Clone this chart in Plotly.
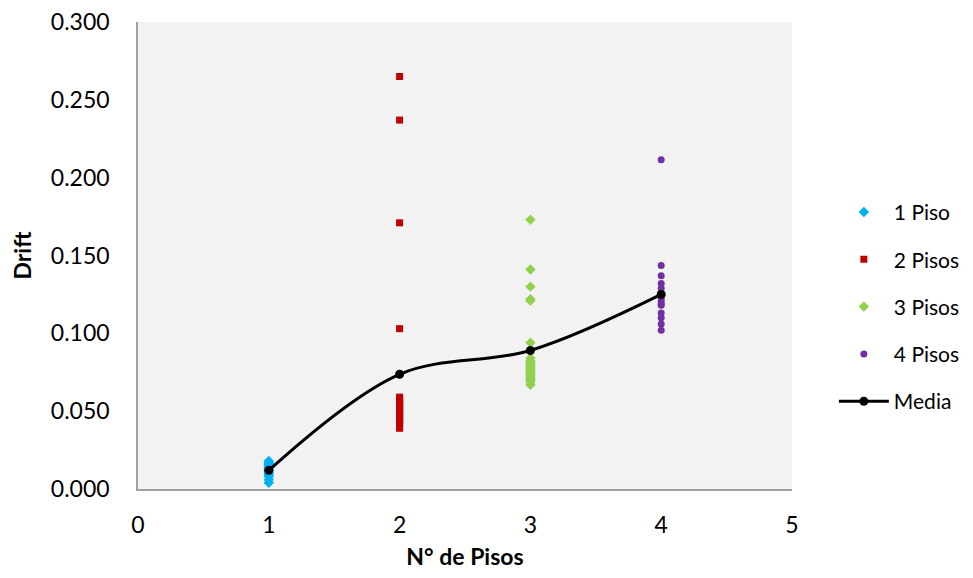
import plotly.graph_objects as go

# ---- data ----
piso1_y = [0.004, 0.006, 0.008, 0.009, 0.010, 0.011, 0.012, 0.012, 0.013, 0.013,
           0.014, 0.014, 0.015, 0.015, 0.016, 0.016, 0.017, 0.018]
piso2_y = [0.265, 0.237, 0.171, 0.103, 0.059, 0.058, 0.057, 0.056, 0.055, 0.054,
           0.053, 0.052, 0.051, 0.050, 0.049, 0.048, 0.047, 0.046, 0.045, 0.044,
           0.043, 0.042, 0.040, 0.039]
piso3_y = [0.173, 0.141, 0.130, 0.122, 0.121, 0.094, 0.084, 0.082, 0.081, 0.080,
           0.079, 0.078, 0.077, 0.076, 0.075, 0.075, 0.074, 0.073, 0.072, 0.071,
           0.070, 0.069, 0.067]
piso4_y = [0.2115, 0.1436, 0.137, 0.132, 0.129, 0.125, 0.123, 0.121, 0.119, 0.118,
           0.113, 0.110, 0.106, 0.102]
media_x = [1, 2, 3, 4]
media_y = [0.012, 0.0737, 0.089, 0.125]

FONT = "Lato"
FS = 23

fig = go.Figure()
fig.add_trace(go.Scatter(x=[1] * len(piso1_y), y=piso1_y, mode="markers", name="1 Piso",
                         legendgroup="a",
                         marker=dict(symbol="diamond", size=8, color="#00B0F0")))
fig.add_trace(go.Scatter(x=[2] * len(piso2_y), y=piso2_y, mode="markers", name="2 Pisos",
                         legendgroup="b",
                         marker=dict(symbol="square", size=7, color="#C00000")))
fig.add_trace(go.Scatter(x=[3] * len(piso3_y), y=piso3_y, mode="markers", name="3 Pisos",
                         legendgroup="c",
                         marker=dict(symbol="diamond", size=8, color="#92D050")))
fig.add_trace(go.Scatter(x=[4] * len(piso4_y), y=piso4_y, mode="markers", name="4 Pisos",
                         legendgroup="d",
                         marker=dict(symbol="circle", size=7, color="#7030A0")))
fig.add_trace(go.Scatter(x=media_x, y=media_y, mode="lines+markers", name="Media",
                         legendgroup="e",
                         line=dict(color="black", width=3, shape="spline", smoothing=1),
                         marker=dict(symbol="circle", size=9, color="black")))

fig.update_layout(
    width=957, height=562,
    margin=dict(l=130, r=173, t=14, b=81, autoexpand=False),
    paper_bgcolor="white",
    plot_bgcolor="#F2F2F2",
    font=dict(family=FONT, size=FS, color="black"),
    showlegend=True,
    legend=dict(x=1.064, xanchor="left", y=0.39, yanchor="middle",
                font=dict(family=FONT, size=21), tracegroupgap=17,
                itemwidth=50, bgcolor="rgba(0,0,0,0)"),
    xaxis=dict(range=[0, 5], dtick=1, tick0=0, showgrid=False, zeroline=False,
               showline=True, linecolor="#A0A0A0", linewidth=1.5, ticks="",
               ticklabelstandoff=15, automargin=False, ticklabeloverflow="allow",
               title=dict(text="<b>N° de Pisos</b>", font=dict(family=FONT, size=FS),
                          standoff=27)),
    yaxis=dict(range=[0, 0.3], dtick=0.05, tick0=0, tickformat=".3f", showgrid=False,
               zeroline=False, showline=True, linecolor="#A0A0A0", linewidth=1.5,
               ticks="", ticklabelstandoff=22, automargin=False,
               ticklabeloverflow="allow",
               title=dict(text="<b>Drift</b>", font=dict(family=FONT, size=FS),
                          standoff=18)),
)

fig.write_html("out.html")
